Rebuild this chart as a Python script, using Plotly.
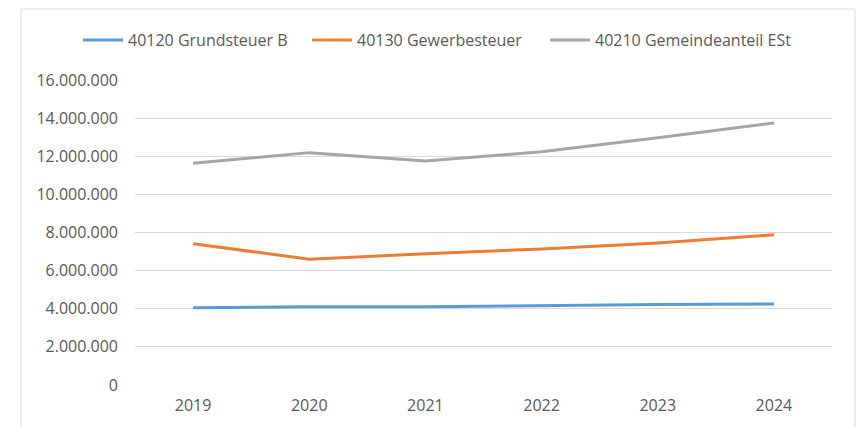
import plotly.graph_objects as go

years = ["2019", "2020", "2021", "2022", "2023", "2024"]
grundsteuer_b = [4050000, 4110000, 4110000, 4170000, 4220000, 4250000]
gewerbesteuer = [7410000, 6600000, 6880000, 7140000, 7450000, 7880000]
gemeindeanteil_est = [11630000, 12190000, 11750000, 12240000, 12970000, 13750000]

series_names = ["40120 Grundsteuer B", "40130 Gewerbesteuer", "40210 Gemeindeanteil ESt"]
series_values = [grundsteuer_b, gewerbesteuer, gemeindeanteil_est]
colors = ["#5b9bd5", "#ed7d31", "#a5a5a5"]

FONT = "Open Sans"
TXT = "#595959"

W, H = 859, 427
L, R, T, B = 135, 27, 80, 42
pw, ph = W - L - R, H - T - B

def px_x(x):
    return (x - L) / pw

def px_y(y):
    return (H - B - y) / ph

legend_ids = ["legend", "legend2", "legend3"]
legend_x_px = [78, 307, 545]

fig = go.Figure()
for name, vals, col, lg in zip(series_names, series_values, colors, legend_ids):
    fig.add_trace(go.Scatter(x=years, y=vals, mode="lines", name=name,
                             line=dict(color=col, width=3), legend=lg))

fig.add_shape(type="rect", xref="paper", yref="paper",
              x0=px_x(21), x1=px_x(855), y0=px_y(440), y1=px_y(9),
              line=dict(color="#d9d9d9", width=1), fillcolor="rgba(0,0,0,0)",
              layer="below")

legend_common = dict(orientation="h", xanchor="left", yanchor="middle",
                     y=px_y(40), font=dict(family=FONT, size=16, color=TXT),
                     bgcolor="rgba(0,0,0,0)", itemwidth=40)

fig.update_layout(
    width=W, height=H,
    margin=dict(l=L, r=R, t=T, b=B),
    paper_bgcolor="white", plot_bgcolor="white",
    separators=",.",
    font=dict(family=FONT, color=TXT, size=16),
    showlegend=True,
    xaxis=dict(type="category", range=[-0.5, 5.5], showgrid=False,
               showline=False, zeroline=False, ticks="", ticklabelstandoff=9,
               tickfont=dict(family=FONT, size=16, color=TXT)),
    yaxis=dict(range=[0, 16000000], dtick=2000000, tickformat=",d",
               showgrid=True, gridcolor="#d9d9d9", gridwidth=1,
               zeroline=False, showline=False, ticks="", ticklabelstandoff=16,
               tickfont=dict(family=FONT, size=16, color=TXT)),
)
for lg, xp in zip(legend_ids, legend_x_px):
    fig.update_layout({lg: dict(legend_common, x=px_x(xp))})

fig.write_html("out.html", config={"displayModeBar": False},
               post_script="document.body.style.margin='0';document.body.style.padding='0';")
